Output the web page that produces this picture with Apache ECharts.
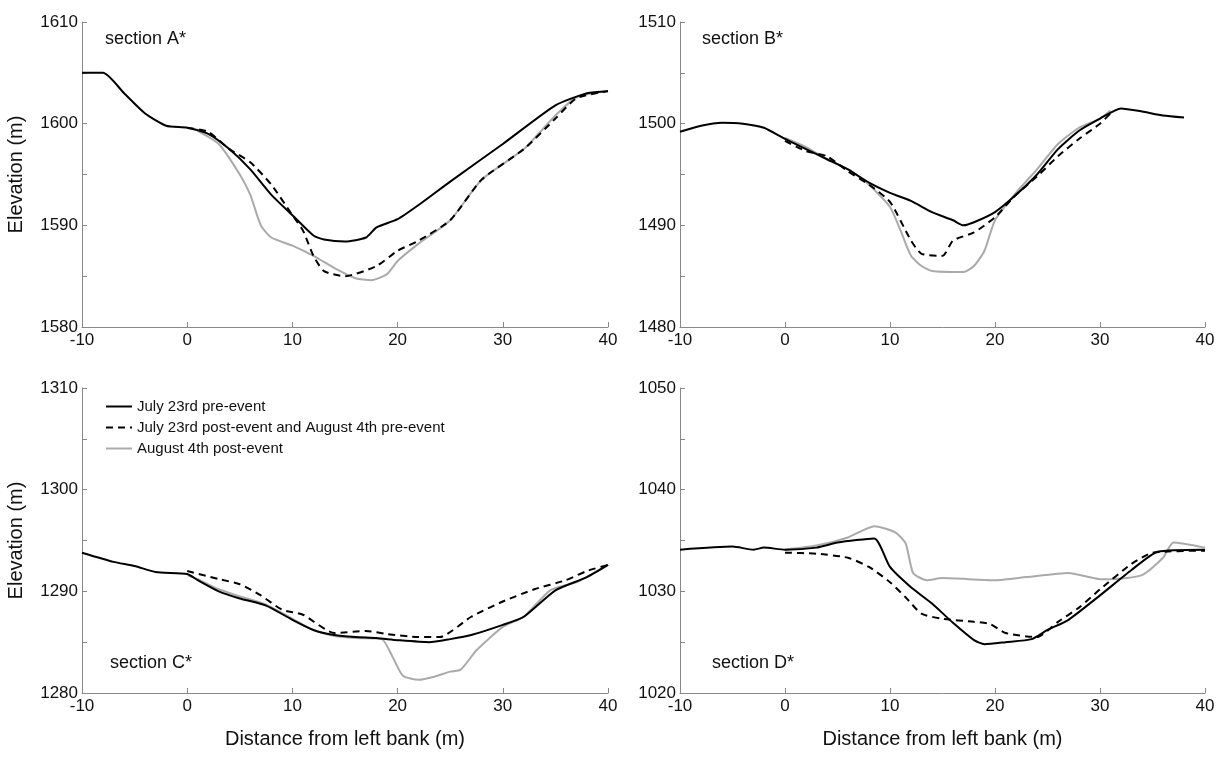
<!DOCTYPE html>
<html>
<head>
<meta charset="utf-8">
<script src="https://cdn.jsdelivr.net/npm/echarts@6/dist/echarts.min.js"></script>
<style>html,body{margin:0;padding:0;background:#fff}#chart{width:1228px;height:762px}</style>
</head>
<body>
<div id="chart"></div>
<script>
// section A*
var preA = [[-10,1605],[-8,1605],[-6,1603],[-4,1601],[-2,1599.8],[0,1599.6],[2,1599],[4,1597.5],[6,1595.5],[8,1593],[10,1591],[12,1589],[13,1588.6],[15,1588.4],[17,1588.8],[18,1589.8],[20,1590.6],[22,1592],[25,1594.3],[30,1598],[35,1601.8],[38,1603],[40,1603.2]];
var midA = [[0,1599.6],[2,1599.2],[4,1597.5],[6,1596.2],[8,1594],[10,1591],[11,1589.5],[12,1587],[13,1585.5],[15,1585],[18,1586],[20,1587.5],[22,1588.5],[25,1590.5],[28,1594.5],[32,1597.5],[35,1600.5],[37,1602.5],[40,1603.2]];
var postA = [[1,1599.3],[3,1598],[5,1595],[6,1593],[7,1590],[8,1588.8],[10,1588],[12,1587],[14,1585.8],[16,1584.8],[17.5,1584.6],[19,1585.2],[20,1586.5],[22,1588.2],[25,1590.5],[28,1594.5],[32,1597.5],[35,1600.8],[37,1602.6],[40,1603.2]];
// section B*
var preB = [[-10,1499.2],[-8,1499.8],[-6,1500.1],[-4,1500],[-2,1499.6],[0,1498.5],[2,1497.5],[4,1496.5],[6,1495.5],[8,1494.2],[10,1493.2],[12,1492.4],[14,1491.3],[16,1490.5],[17,1490],[18,1490.3],[20,1491.3],[22,1493],[24,1495],[26,1497.5],[28,1499.3],[30,1500.5],[32,1501.5],[34,1501.2],[36,1500.8],[38,1500.6]];
var midB = [[0,1498.3],[2,1497.3],[4,1496.8],[6,1495.3],[8,1494],[10,1492.3],[12,1488.5],[13,1487.2],[15,1487],[16,1488.5],[18,1489.3],[20,1490.8],[22,1493],[24,1494.8],[26,1496.8],[28,1498.5],[30,1500],[31,1501]];
var postB = [[0,1498.6],[2,1497.7],[4,1496.5],[6,1495.5],[8,1494],[10,1491.8],[11,1489.5],[12,1487],[13,1486],[14,1485.5],[17,1485.4],[18,1486],[19,1487.5],[20,1490.5],[22,1493.2],[24,1495.5],[26,1498],[28,1499.6],[30,1500.5],[31,1501.3]];
// section C*
var preC = [[-10,1293.8],[-7,1292.9],[-5,1292.5],[-3,1291.9],[0,1291.7],[1,1291.1],[3,1290],[5,1289.3],[7.5,1288.6],[10,1287.2],[12,1286.2],[14,1285.7],[16,1285.5],[18,1285.4],[20,1285.2],[23,1285],[25,1285.3],[27,1285.7],[30,1286.7],[32,1287.5],[35,1290.1],[38,1291.4],[40,1292.6]];
var midC = [[0,1292],[3,1291.2],[5,1290.7],[7,1289.6],[9,1288.2],[11,1287.7],[14,1285.9],[17,1286.1],[19,1285.8],[22,1285.5],[24,1285.5],[27,1287.5],[30,1289],[33,1290.2],[36,1291.1],[38,1292],[40,1292.6]];
var postC = [[0,1291.6],[1,1291.2],[3,1290.2],[5,1289.5],[7.5,1288.7],[10,1287.3],[12,1286.2],[14,1285.6],[16,1285.4],[18.5,1285.3],[19.5,1283.6],[20.5,1281.7],[22,1281.3],[23.5,1281.6],[25,1282.1],[26,1282.3],[27.5,1284.2],[30,1286.5],[32,1287.5],[34.5,1290.1],[37,1290.9],[40,1292.6]];
// section D*
var preD = [[-10,1034.1],[-5,1034.4],[-3,1034.1],[-2,1034.3],[0,1034.1],[3,1034.3],[5,1034.8],[8.5,1035.2],[10,1032.4],[12,1030.4],[14,1028.8],[16,1026.9],[18,1025.2],[19,1024.8],[21,1025],[23.5,1025.3],[25,1026.2],[27,1027.2],[30,1029.6],[33,1032.1],[35.5,1033.9],[40,1034.1]];
var midD = [[0,1033.8],[3,1033.7],[6,1033.3],[8,1032.4],[10,1030.9],[11.5,1029.4],[13,1027.8],[15,1027.3],[18,1027],[19.5,1026.8],[21,1025.9],[24,1025.5],[26,1027],[28,1028.4],[30,1030.2],[33,1032.7],[35,1033.8],[40,1034]];
var postD = [[0,1034.1],[3,1034.5],[6,1035.3],[8.5,1036.4],[10.5,1035.8],[11.5,1034.7],[12.2,1031.8],[13.5,1031.1],[15,1031.3],[20,1031.1],[23,1031.4],[27,1031.8],[30,1031.2],[31,1031.2],[34,1031.6],[36,1033.3],[37,1034.8],[40,1034.3]];

var yRanges = [[1580,1610],[1480,1510],[1280,1310],[1020,1050]];
var sectionNames = ['section A*','section B*','section C*','section D*'];
var seriesNames = ['July 23rd pre-event','July 23rd post-event and August 4th pre-event','August 4th post-event'];
var allData = [[preA,midA,postA],[preB,midB,postB],[preC,midC,postC],[preD,midD,postD]];

var grids = [
    {left:82, top:22, width:526, height:305},
    {left:680, top:22, width:525, height:305},
    {left:82, top:388, width:526, height:305},
    {left:680, top:388, width:525, height:305}
];
var axisColor = '#888';
var font = 'Liberation Sans, Arial, sans-serif';

var xAxes = [], yAxes = [], series = [];
grids.forEach(function(g, i) {
    xAxes.push({
        gridIndex: i, type: 'value', min: -10, max: 40, interval: 10,
        name: i >= 2 ? 'Distance from left bank (m)' : '',
        nameLocation: 'middle', nameGap: 36,
        nameTextStyle: {fontSize: 20, color: '#111', fontFamily: font},
        axisLine: {onZero: false, lineStyle: {color: axisColor}},
        axisTick: {inside: true, length: 5, lineStyle: {color: axisColor}},
        axisLabel: {fontSize: 17, color: '#111', fontFamily: font, margin: 5},
        splitLine: {show: false}
    });
    yAxes.push({
        gridIndex: i, type: 'value', min: yRanges[i][0], max: yRanges[i][1], interval: 5,
        name: (i % 2 === 0) ? 'Elevation (m)' : '',
        nameLocation: 'middle', nameGap: 56,
        nameTextStyle: {fontSize: 20, color: '#111', fontFamily: font},
        axisLine: {show: true, onZero: false, lineStyle: {color: axisColor}},
        axisTick: {show: true, inside: true, length: 5, lineStyle: {color: axisColor}},
        axisLabel: {fontSize: 17, color: '#111', fontFamily: font, margin: 4,
            formatter: function(v) { return v % 10 === 0 ? v : ''; }},
        splitLine: {show: false}
    });
    var styles = [
        {color: '#000', width: 2, type: 'solid'},
        {color: '#000', width: 2, type: [7, 5]},
        {color: '#aaa', width: 2, type: 'solid'}
    ];
    allData[i].forEach(function(d, k) {
        series.push({
            name: seriesNames[k], type: 'line', xAxisIndex: i, yAxisIndex: i,
            data: d, showSymbol: false, symbol: 'none', smooth: 0.2,
            lineStyle: styles[k], itemStyle: {color: styles[k].color},
            z: 3 - k
        });
    });
});

var chart = echarts.init(document.getElementById('chart'));
chart.setOption({
    animation: false,
    grid: grids,
    xAxis: xAxes,
    yAxis: yAxes,
    series: series,
    legend: {
        orient: 'vertical', left: 100, top: 394, itemWidth: 26, itemHeight: 10, itemGap: 6,
        itemStyle: {opacity: 0},
        textStyle: {fontSize: 15, color: '#111', fontFamily: font},
        data: seriesNames
    },
    graphic: [
        {type: 'text', left: 105, top: 30, style: {text: sectionNames[0], fontSize: 18, fill: '#111', fontFamily: font}},
        {type: 'text', left: 702, top: 30, style: {text: sectionNames[1], fontSize: 18, fill: '#111', fontFamily: font}},
        {type: 'text', left: 110, top: 654, style: {text: sectionNames[2], fontSize: 18, fill: '#111', fontFamily: font}},
        {type: 'text', left: 712, top: 654, style: {text: sectionNames[3], fontSize: 18, fill: '#111', fontFamily: font}}
    ]
});
</script>
</body>
</html>
